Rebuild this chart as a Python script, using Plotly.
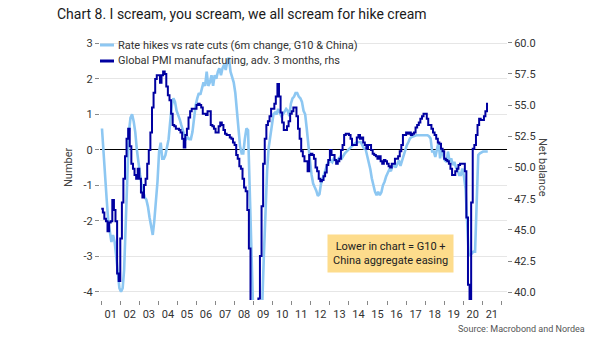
import plotly.graph_objects as go

START_YEAR = 2001

# Rate hikes vs rate cuts (6m change, G10 & China), monthly from Jan 2001 (left axis)
rate_hikes = [
    0.6, 0.0, -0.7, -1.4, -2.0, -2.3, -2.6, -2.4, -2.6, -3.0, -3.5, -3.9,      # 2001
    -4.0, -3.9, -3.4, -2.0, -0.4, 0.5, 0.9, 1.0, 0.8, 0.5, 0.0, -0.4,          # 2002
    -0.7, -1.0, -1.2, -1.35, -1.4, -1.6, -1.9, -2.2, -2.4, -2.0, -1.5, -0.9,   # 2003
    -0.05, 0.2, -0.25, -0.25, -0.15, 0.05, 0.3, 0.8, 1.25, 1.45, 1.35, 1.1,    # 2004
    1.0, 0.85, 0.7, 0.5, 0.4, 0.3, 0.35, 0.3, 0.3, 0.5, 0.9, 1.25,             # 2005
    1.45, 1.6, 1.55, 1.7, 1.9, 1.8, 2.2, 1.8, 1.9, 2.1, 1.8, 2.1,              # 2006
    2.0, 2.2, 2.3, 2.1, 2.3, 2.4, 2.25, 2.5, 2.6, 2.2, 2.0, 1.9,               # 2007
    1.6, 1.1, 0.5, 0.1, -0.1, -0.1, 0.3, 0.6, 0.55, -0.9, -2.6, -4.2,          # 2008
    -4.6, -4.6, -4.6, -4.6, -4.5, -4.3, -3.0, -1.6, -0.6, 0.05, 0.4, 0.8,      # 2009
    1.0, 1.05, 1.0, 1.15, 1.05, 0.95, 1.0, 1.1, 1.15, 1.1, 0.95, 1.3,          # 2010
    1.45, 1.5, 1.6, 1.6, 1.5, 1.45, 1.35, 1.1, 1.0, 0.6, 0.05, -0.3,           # 2011
    -0.7, -0.95, -1.05, -1.15, -1.3, -1.25, -0.95, -0.8, -0.65, -0.5, -0.4, -0.35,  # 2012
    -0.3, -0.35, -0.25, -0.3, -0.35, -0.25, -0.2, -0.25, -0.15, -0.1, -0.05, 0.0,   # 2013
    0.05, 0.08, 0.12, 0.17, 0.2, 0.22, 0.22, 0.22, 0.12, 0.04, 0.03, -0.15,         # 2014
    -0.35, -0.55, -0.8, -1.0, -1.18, -1.28, -1.18, -1.28, -1.2, -1.0, -0.9, -0.75,  # 2015
    -0.65, -0.55, -0.6, -0.45, -0.43, -0.5, -0.4, -0.3, -0.45, -0.3, -0.15, -0.05,  # 2016
    0.13, 0.22, 0.32, 0.36, 0.38, 0.38, 0.41, 0.41, 0.41, 0.41, 0.41, 0.41,         # 2017
    0.41, 0.41, 0.38, 0.32, -0.05, -0.05, -0.2, 0.04, 0.22, -0.24, 0.04, -0.15,     # 2018
    -0.3, -0.34, -0.05, -0.34, -0.24, -0.43, -0.34, -0.5, -0.55, -0.71, -0.71, -0.53,  # 2019
    -0.75, -1.1, -2.0, -2.97, -2.97, -2.93, -2.87, -2.87, -1.46, -0.15, -0.1, -0.07,   # 2020
    -0.05, -0.05, -0.05, -0.05,                                                      # 2021
]

# Global PMI manufacturing, advanced 3 months (right axis), monthly from Jan 2001
pmi_adv = [
    46.7, 46.4, 45.9, 45.7, 44.9, 45.6, 45.7, 47.4, 46.6, 45.7, 41.5, 40.9,  # 2001
    44.3, 47.2, 49.1, 50.9, 52.3, 53.1, 51.7, 50.3, 49.9, 49.4, 49.1, 49.9,  # 2002
    49.1, 48.0, 47.6, 48.6, 49.1, 50.3, 51.4, 52.8, 54.8, 56.0, 57.1, 57.4,  # 2003
    57.4, 56.8, 57.4, 57.7, 57.5, 56.5, 55.8, 55.4, 54.3, 53.4, 53.3, 53.1,  # 2004
    53.1, 53.0, 52.8, 52.3, 51.6, 52.6, 53.1, 54.0, 54.5, 54.7, 54.7, 54.7,  # 2005
    55.0, 55.1, 55.0, 54.8, 54.3, 54.3, 54.2, 54.5, 54.5, 53.4, 53.3, 53.1,  # 2006
    52.8, 52.8, 53.3, 53.6, 53.4, 53.0, 52.7, 52.6, 52.6, 52.4, 52.3, 52.0,  # 2007
    51.8, 51.0, 50.7, 50.1, 49.9, 49.1, 48.4, 48.1, 46.6, 43.5, 38.3, 35.8,  # 2008
    34.4, 34.9, 36.6, 39.5, 42.9, 46.9, 50.3, 52.3, 53.4, 53.7, 54.1, 54.7,  # 2009
    54.7, 55.1, 55.7, 56.7, 55.7, 54.4, 53.6, 53.0, 53.0, 53.3, 53.7, 54.3,  # 2010
    54.5, 54.8, 54.8, 54.1, 53.1, 52.3, 51.3, 50.9, 50.5, 50.5, 49.7, 51.0,  # 2011
    51.1, 51.0, 50.7, 50.0, 49.7, 49.1, 48.9, 49.0, 49.3, 49.6, 50.2, 50.6,  # 2012
    51.4, 51.0, 51.0, 50.6, 50.3, 50.5, 50.7, 51.4, 51.8, 52.6, 52.7, 52.7,  # 2013
    52.6, 52.3, 51.8, 51.8, 51.8, 52.4, 52.6, 52.3, 52.4, 52.0, 51.8, 51.5,  # 2014
    51.8, 51.8, 51.4, 51.1, 51.0, 50.9, 50.7, 50.9, 50.5, 50.3, 50.6, 50.5,  # 2015
    50.3, 50.1, 50.0, 50.3, 50.3, 50.7, 50.7, 50.9, 51.3, 51.8, 52.6, 52.6,  # 2016
    52.8, 52.7, 52.8, 52.6, 52.7, 52.8, 53.2, 53.4, 53.6, 53.9, 54.1, 54.3,  # 2017
    54.3, 53.9, 53.4, 53.4, 53.1, 52.8, 52.6, 52.3, 52.0, 51.9, 51.5, 51.3,  # 2018
    50.7, 50.6, 50.5, 50.3, 49.9, 49.4, 49.4, 49.7, 49.9, 50.2, 50.3, 50.3,  # 2019
    50.3, 49.7, 46.0, 40.6, 38.6, 47.2, 51.5, 51.8, 52.6, 53.4, 53.9, 53.8,  # 2020
    53.8, 54.1, 54.5, 55.2,                                                  # 2021
]

left_ticks = [-4, -3, -2, -1, 0, 1, 2, 3]
left_ticktext = ["-4", "-3", "-2", "-1", "0", "1", "2", "3"]
right_ticks = [40.0, 42.5, 45.0, 47.5, 50.0, 52.5, 55.0, 57.5, 60.0]
right_ticktext = ["40.0", "42.5", "45.0", "47.5", "50.0", "52.5", "55.0", "57.5", "60.0"]

NAME_RATES = "Rate hikes vs rate cuts (6m change, G10 & China)"
NAME_PMI = "Global PMI manufacturing, adv. 3 months, rhs"
TITLE = "Chart 8. I scream, you scream, we all scream for hike cream"
NOTE = "Lower in chart = G10 +<br>China aggregate easing"
SOURCE = "Source: Macrobond and Nordea"

LIGHT = "#8DC7F2"
DARK = "#0000A0"
FONT = "Roboto"
TXT = "#333333"


def month_dates(n, day):
    out = []
    for i in range(n):
        y = START_YEAR + i // 12
        m = i % 12 + 1
        out.append(f"{y}-{m:02d}-{day:02d}")
    return out


W, H = 605, 341
L, R, T, B = 100, 507, 38, 300  # plot area in pixels


def px(x):
    return (x - L) / (R - L)


def py(y):
    return (B - y) / (B - T)


fig = go.Figure()
fig.add_trace(go.Scatter(
    x=month_dates(len(rate_hikes), 15), y=rate_hikes, name=NAME_RATES,
    mode="lines", line=dict(color=LIGHT, width=2.6), yaxis="y",
))
fig.add_trace(go.Scatter(
    x=month_dates(len(pmi_adv), 1), y=pmi_adv, name=NAME_PMI,
    mode="lines", line=dict(color=DARK, width=2, shape="hv"), yaxis="y2",
))

shapes = [
    dict(type="line", xref="paper", yref="paper", x0=px(100), x1=px(114),
         y0=py(45), y1=py(45), line=dict(color=LIGHT, width=3)),
    dict(type="line", xref="paper", yref="paper", x0=px(100), x1=px(114),
         y0=py(61), y1=py(61), line=dict(color=DARK, width=3)),
]

annotations = [
    dict(text=TITLE, xref="paper", yref="paper", x=px(55), y=py(14),
         xanchor="left", yanchor="middle", showarrow=False,
         font=dict(family=FONT, size=14, color="#1a1a1a")),
    dict(text=NAME_RATES, xref="paper", yref="paper", x=px(116), y=py(45),
         xanchor="left", yanchor="middle", showarrow=False,
         font=dict(family=FONT, size=11, color=TXT)),
    dict(text=NAME_PMI, xref="paper", yref="paper", x=px(116), y=py(61),
         xanchor="left", yanchor="middle", showarrow=False,
         font=dict(family=FONT, size=11, color=TXT)),
    dict(text="Number", xref="paper", yref="paper", x=px(68), y=py(167),
         xanchor="center", yanchor="middle", showarrow=False, textangle=-90,
         font=dict(family=FONT, size=11, color="#444")),
    dict(text="Net balance", xref="paper", yref="paper", x=px(543), y=py(167),
         xanchor="center", yanchor="middle", showarrow=False, textangle=90,
         font=dict(family=FONT, size=11, color="#444")),
    dict(text=NOTE, xref="paper", yref="paper", x=px(390.5), y=py(253.7),
         xanchor="center", yanchor="middle", showarrow=False,
         bgcolor="#FDDC8C", borderpad=5, align="center",
         font=dict(family=FONT, size=11, color="#222")),
    dict(text=SOURCE, xref="paper", yref="paper", x=px(587), y=py(329),
         xanchor="right", yanchor="middle", showarrow=False,
         font=dict(family=FONT, size=9, color="#555")),
]

fig.update_layout(
    width=W, height=H,
    margin=dict(l=L, r=W - R, t=T, b=H - B),
    paper_bgcolor="white", plot_bgcolor="white",
    showlegend=False,
    font=dict(family=FONT, size=11, color=TXT),
    shapes=shapes, annotations=annotations,
    xaxis=dict(
        type="date", range=["2000-12-08", "2022-04-19"],
        tick0="2001-01-01", dtick="M12", tickformat="%y",
        ticklabelmode="period", ticks="outside", ticklen=4, tickcolor="#888",
        showgrid=False, zeroline=False, showline=False,
        tickfont=dict(size=11, color=TXT),
    ),
    yaxis=dict(
        range=[-4.232, 3.150], tickvals=left_ticks, ticktext=left_ticktext,
        ticks="outside", ticklen=4, tickcolor="#888",
        showgrid=True, gridcolor="#e6e6e6", gridwidth=1,
        zeroline=True, zerolinecolor="#000000", zerolinewidth=1,
        showline=False, tickfont=dict(size=11, color=TXT),
    ),
    yaxis2=dict(
        overlaying="y", side="right", range=[39.38, 60.38],
        tickvals=right_ticks, ticktext=right_ticktext,
        ticks="outside", ticklen=4, tickcolor="#888",
        showgrid=False, zeroline=False, showline=False,
        tickfont=dict(size=11, color=TXT),
    ),
)

fig.write_html("out.html")
